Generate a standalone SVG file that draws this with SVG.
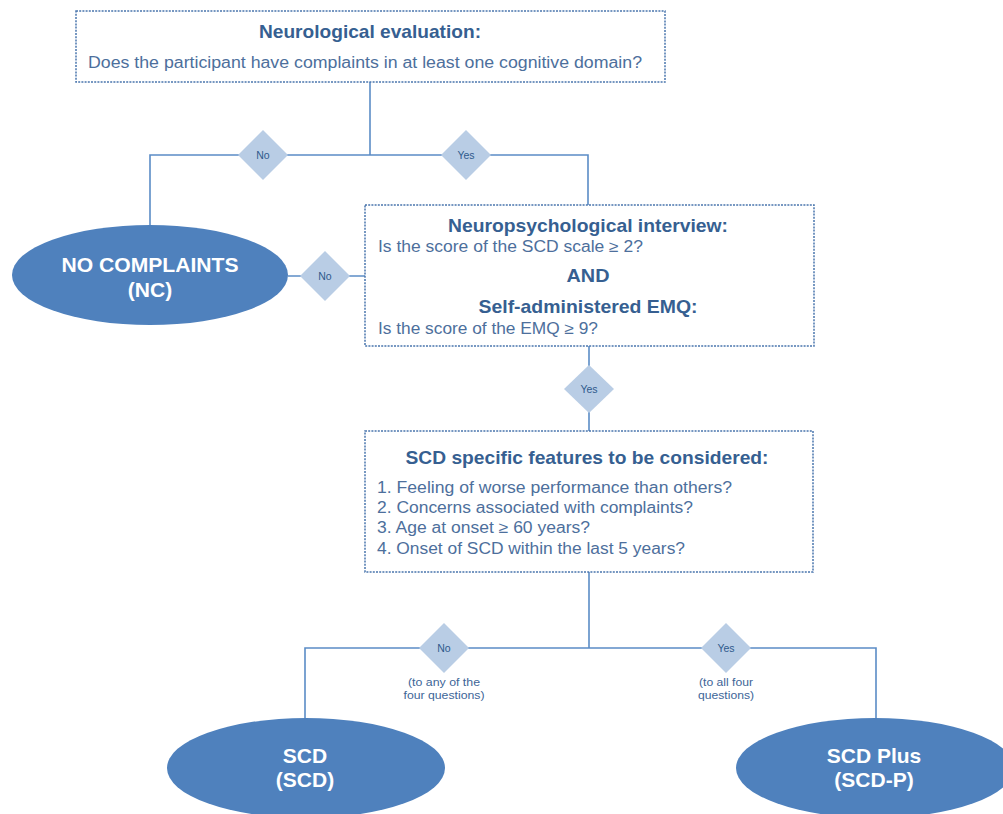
<svg xmlns="http://www.w3.org/2000/svg" width="1003" height="814" viewBox="0 0 1003 814">
<style>
.box{fill:#ffffff;stroke:#4a76ad;stroke-width:1.5;stroke-dasharray:2 1.2}
.con{fill:none;stroke:#5b8cc6;stroke-width:1.6}
.dia{fill:#b9cde5}
.ell{fill:#4f81bd}
.t{font-family:"Liberation Sans",Arial,sans-serif}
.ttl{font-size:19px;font-weight:bold;fill:#365f91;text-anchor:middle}
.body{font-size:16px;fill:#4d6f9c}
.dl{font-size:10.5px;fill:#2f5a8c;text-anchor:middle}
.sm{font-size:10.5px;fill:#3d6597;text-anchor:middle}
.et{font-size:21px;font-weight:bold;fill:#ffffff;text-anchor:middle}
</style>
<rect width="1003" height="814" fill="#ffffff"/>
<g id="connectors">
<path class="con" d="M370 82 V155"/>
<path class="con" d="M150 226 V155 H588 V205"/>
<path class="con" d="M288 276 H365"/>
<path class="con" d="M589 346 V431"/>
<path class="con" d="M589 572 V648"/>
<path class="con" d="M305 719 V648 H876 V719"/>
</g>
<g id="neuro-eval">
<rect class="box" x="76" y="11" width="589" height="71"/>
<text class="t ttl" x="370" y="38" textLength="222" lengthAdjust="spacingAndGlyphs">Neurological evaluation:</text>
<text class="t body" x="88" y="68" textLength="554" lengthAdjust="spacingAndGlyphs">Does the participant have complaints in at least one cognitive domain?</text>
</g>
<g id="dec-no-1">
<polygon class="dia" points="263,130 288,155 263,180 238,155"/>
<text class="t dl" x="263" y="159">No</text>
</g>
<g id="dec-yes-1">
<polygon class="dia" points="466,130 491,155 466,180 441,155"/>
<text class="t dl" x="466" y="159">Yes</text>
</g>
<g id="no-complaints">
<ellipse class="ell" cx="150" cy="275" rx="138" ry="50"/>
<text class="t et" x="150" y="272" textLength="177" lengthAdjust="spacingAndGlyphs">NO COMPLAINTS</text>
<text class="t et" x="150" y="297">(NC)</text>
</g>
<g id="dec-no-2">
<polygon class="dia" points="325,251 350,276 325,301 300,276"/>
<text class="t dl" x="325" y="280">No</text>
</g>
<g id="neuropsych">
<rect class="box" x="365" y="205" width="449" height="141"/>
<text class="t ttl" x="588" y="232" textLength="280" lengthAdjust="spacingAndGlyphs">Neuropsychological interview:</text>
<text class="t body" x="378" y="252" textLength="265" lengthAdjust="spacingAndGlyphs">Is the score of the SCD scale ≥ 2?</text>
<text class="t ttl" x="588" y="282" textLength="43" lengthAdjust="spacingAndGlyphs">AND</text>
<text class="t ttl" x="588" y="313" textLength="219" lengthAdjust="spacingAndGlyphs">Self-administered EMQ:</text>
<text class="t body" x="378" y="334" textLength="220" lengthAdjust="spacingAndGlyphs">Is the score of the EMQ ≥ 9?</text>
</g>
<g id="dec-yes-2">
<polygon class="dia" points="589,365 614,389 589,413 564,389"/>
<text class="t dl" x="589" y="393">Yes</text>
</g>
<g id="scd-features">
<rect class="box" x="365" y="431" width="448" height="141"/>
<text class="t ttl" x="587" y="464" textLength="363" lengthAdjust="spacingAndGlyphs">SCD specific features to be considered:</text>
<text class="t body" x="377" y="493" textLength="355" lengthAdjust="spacingAndGlyphs">1. Feeling of worse performance than others?</text>
<text class="t body" x="377" y="513" textLength="316" lengthAdjust="spacingAndGlyphs">2. Concerns associated with complaints?</text>
<text class="t body" x="377" y="533" textLength="213" lengthAdjust="spacingAndGlyphs">3. Age at onset ≥ 60 years?</text>
<text class="t body" x="377" y="554" textLength="308" lengthAdjust="spacingAndGlyphs">4. Onset of SCD within the last 5 years?</text>
</g>
<g id="dec-no-3">
<polygon class="dia" points="444,623 469,648 444,673 419,648"/>
<text class="t dl" x="444" y="652">No</text>
<text class="t sm" x="444" y="686" textLength="72" lengthAdjust="spacingAndGlyphs">(to any of the</text>
<text class="t sm" x="444" y="699" textLength="81" lengthAdjust="spacingAndGlyphs">four questions)</text>
</g>
<g id="dec-yes-3">
<polygon class="dia" points="726,623 751,648 726,673 701,648"/>
<text class="t dl" x="726" y="652">Yes</text>
<text class="t sm" x="726" y="686" textLength="54" lengthAdjust="spacingAndGlyphs">(to all four</text>
<text class="t sm" x="726" y="699" textLength="56" lengthAdjust="spacingAndGlyphs">questions)</text>
</g>
<g id="scd">
<ellipse class="ell" cx="306" cy="768" rx="139" ry="50"/>
<text class="t et" x="305" y="763">SCD</text>
<text class="t et" x="305" y="787">(SCD)</text>
</g>
<g id="scd-plus">
<ellipse class="ell" cx="875" cy="768" rx="139" ry="50"/>
<text class="t et" x="874" y="763">SCD Plus</text>
<text class="t et" x="874" y="787">(SCD-P)</text>
</g>
</svg>
